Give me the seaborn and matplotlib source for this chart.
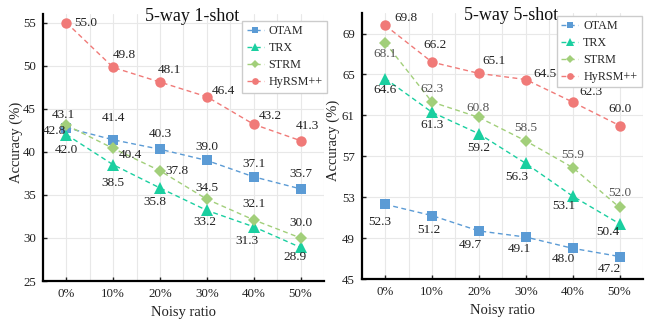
import numpy as np
import pandas as pd
import seaborn as sns
import matplotlib
matplotlib.use("Agg")
import matplotlib.pyplot as plt
from matplotlib.ticker import MultipleLocator

ratios = ["0%", "10%", "20%", "30%", "40%", "50%"]
methods = ["OTAM", "TRX", "STRM", "HyRSM++"]

# 5-way 1-shot
otam_1 = [42.8, 41.4, 40.3, 39.0, 37.1, 35.7]
trx_1 = [42.0, 38.5, 35.8, 33.2, 31.3, 28.9]
strm_1 = [43.1, 40.4, 37.8, 34.5, 32.1, 30.0]
hyrsm_1 = [55.0, 49.8, 48.1, 46.4, 43.2, 41.3]
yticks_1 = [25, 30, 35, 40, 45, 50, 55]

# 5-way 5-shot
otam_5 = [52.3, 51.2, 49.7, 49.1, 48.0, 47.2]
trx_5 = [64.6, 61.3, 59.2, 56.3, 53.1, 50.4]
strm_5 = [68.1, 62.3, 60.8, 58.5, 55.9, 52.0]
hyrsm_5 = [69.8, 66.2, 65.1, 64.5, 62.3, 60.0]
yticks_5 = [45, 49, 53, 57, 61, 65, 69]

colors = {"OTAM": "#5B9BD5", "TRX": "#1ACFA0", "STRM": "#A2CF7A", "HyRSM++": "#F07A78"}
markers = {"OTAM": "s", "TRX": "^", "STRM": "D", "HyRSM++": "o"}

# label offsets in pixels (dx, dy), dy positive = up
off_1 = {
    "OTAM": [(-12, -3), (0, 22), (0, 15), (0, 13), (0, 13), (0, 15)],
    "TRX": [(0, -15), (0, -18), (-5, -14), (-2, -12), (-7, -14), (-6, -10)],
    "STRM": [(-3, 10), (17, -7), (17, 0), (0, 11), (0, 16), (0, 15)],
    "HyRSM++": [(19, 0), (11, 12), (9, 12), (17, 6), (17, 8), (7, 15)],
}
off_5 = {
    "OTAM": [(-5, -18), (-3, -14), (-9, -14), (-6, -12), (-9, -11), (-10, -12)],
    "TRX": [(0, -11), (0, -13), (0, -14), (-9, -14), (-9, -10), (-12, -8)],
    "STRM": [(0, -11), (0, 13), (-1, 9), (0, 13), (0, 13), (0, 14)],
    "HyRSM++": [(21, 7), (3, 17), (15, 12), (19, 6), (18, 10), (0, 17)],
}

def make_df(vals):
    rows = []
    for m, v in zip(methods, vals):
        for i, a in enumerate(v):
            rows.append({"pos": i, "acc": a, "method": m})
    return pd.DataFrame(rows)

df1 = make_df([otam_1, trx_1, strm_1, hyrsm_1])
df5 = make_df([otam_5, trx_5, strm_5, hyrsm_5])

sns.set_style("ticks")
plt.rcParams["font.family"] = ["Liberation Serif", "DejaVu Serif"]
plt.rcParams["font.serif"] = ["Liberation Serif", "DejaVu Serif"]

fig = plt.figure(figsize=(6.58, 3.22), dpi=100)
ax1 = fig.add_axes([0.0653, 0.1273, 0.427, 0.829])
ax2 = fig.add_axes([0.5497, 0.1335, 0.4275, 0.826])

FONT = ["Liberation Serif", "DejaVu Serif"]

def draw(ax, df, offs, title, ylim, yticks, legend_anchor, label_colors, ylab_x):
    ax.set_axisbelow(True)
    ax.xaxis.set_major_locator(MultipleLocator(1))
    ax.xaxis.set_minor_locator(MultipleLocator(0.5))
    ax.grid(True, which="both", axis="x", color="#e8e8e8", linewidth=0.8)
    ax.grid(True, which="major", axis="y", color="#e8e8e8", linewidth=0.8)
    sns.lineplot(data=df, x="pos", y="acc", hue="method", style="method",
                 hue_order=methods, style_order=methods,
                 palette=colors, markers=markers,
                 dashes={m: (3.5, 2.5) for m in methods},
                 linewidth=1.0, markersize=7.5, markeredgewidth=0, ax=ax)
    for line in ax.lines:
        if line.get_marker() == "D":
            line.set_markersize(6)
        if line.get_marker() == "^":
            line.set_markersize(8)
    for m in methods:
        sub = df[df.method == m]
        for (i, a), (dx, dy) in zip(zip(sub.pos, sub.acc), offs[m]):
            ax.annotate(f"{a:.1f}", (i, a), xytext=(dx, dy), textcoords="offset pixels",
                        ha="center", va="center", fontsize=9.5, family=FONT,
                        color=label_colors.get(m, "#222222"))
    ax.set_xlim(-0.5, 5.5)
    ax.set_ylim(*ylim)
    ax.set_yticks(yticks)
    ax.set_xticks(range(len(ratios)))
    ax.set_xticklabels(ratios)
    ax.tick_params(axis="both", which="major", direction="in", length=3, width=1, labelsize=9.3,
                   colors="#222222", pad=5)
    ax.tick_params(axis="x", which="minor", length=0)
    for lab in ax.get_xticklabels() + ax.get_yticklabels():
        lab.set_family(FONT)
    for s in ["left", "bottom"]:
        ax.spines[s].set_linewidth(1.6)
        ax.spines[s].set_color("black")
    ax.spines["top"].set_visible(False)
    ax.spines["right"].set_visible(False)
    ax.set_xlabel("Noisy ratio", fontsize=10.5, color="#222222", family=FONT)
    ax.set_ylabel("Accuracy (%)", fontsize=10.5, color="#222222", family=FONT)
    ax.yaxis.set_label_coords(ylab_x, 0.52)
    ax.text(0.53, 0.99, title, transform=ax.transAxes, ha="center", va="center",
            fontsize=13, color="#111111", family=FONT)
    h, l = ax.get_legend_handles_labels()
    ax.legend(h, l, loc="upper right", bbox_to_anchor=legend_anchor,
              prop={"family": FONT, "size": 8.7}, markerscale=0.65,
              frameon=True, fancybox=False, edgecolor="#cccccc", framealpha=1,
              borderaxespad=0, handlelength=1.4, handletextpad=0.4, labelspacing=0.42,
              borderpad=0.35)

draw(ax1, df1, off_1, "5-way 1-shot", (25, 56), yticks_1, (1.01, 0.974), {}, -0.072)
draw(ax2, df5, off_5, "5-way 5-shot", (45, 71), yticks_5, (0.995, 0.99), {"STRM": "#555555"}, -0.077)

fig.savefig("out.png", dpi=100)
